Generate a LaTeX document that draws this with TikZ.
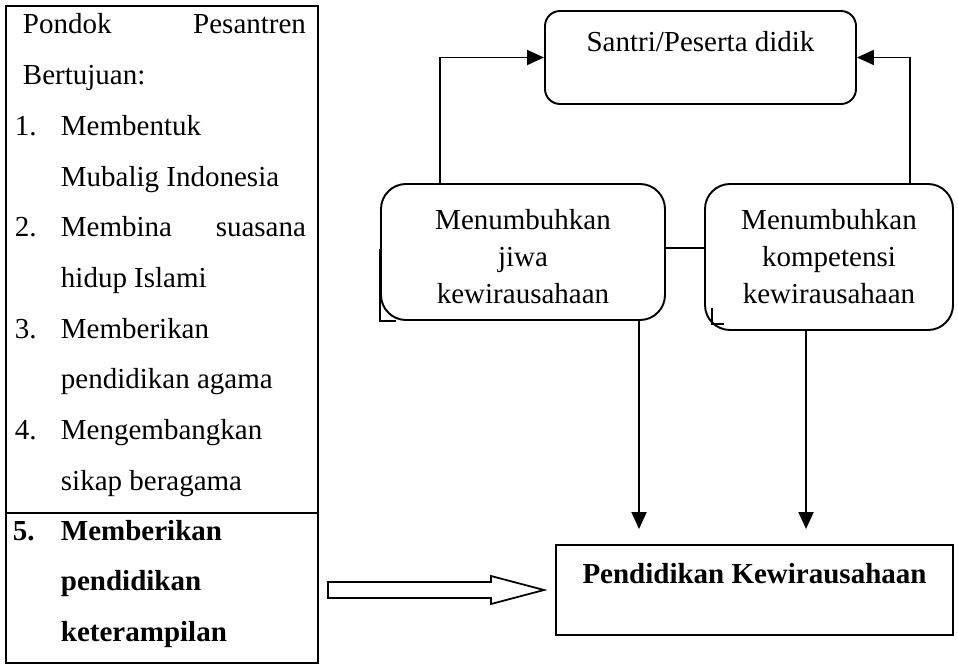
\documentclass[tikz,border=0pt]{standalone}
\usepackage{fontspec}
\setmainfont{Liberation Serif}
\usetikzlibrary{arrows.meta, positioning, calc}

\begin{document}
\begin{tikzpicture}[
        line width=1.1pt,
        font=\fontsize{16.5pt}{28.85pt}\selectfont,
        panel/.style={rectangle, draw, inner sep=0, outer sep=0, minimum width=6.24cm},
        listtext/.style={inner sep=0, anchor=base west},
        roundbox/.style={rectangle, draw, rounded corners=0.5cm, inner sep=0, align=center, font=\fontsize{16.5pt}{21pt}\selectfont},
        plainbox/.style={rectangle, draw, inner sep=0, font=\fontsize{16.5pt}{21pt}\selectfont\bfseries},
        arr/.style={-{Triangle[length=0.34cm, width=0.3cm]}}
    ]
        \useasboundingbox (0,0) rectangle (19.16,-13.34);

        % left column: aims of the pesantren
        \node[panel, anchor=north west, minimum height=10.14cm] (aims) at (0.12,-0.12) {};
        \node[panel, below=0pt of aims, minimum height=3cm] (skill) {};
        \node[listtext] (aimslist) at (0.28,-0.68) {\parbox[t]{5.82cm}{%
            \hspace*{0.16cm}Pondok\hfill Pesantren\\
            \hspace*{0.16cm}Bertujuan:\\
            \makebox[0.92cm][l]{1.}Membentuk\\
            \hspace*{0.92cm}Mubalig Indonesia\\
            \makebox[0.92cm][l]{2.}Membina\hfill suasana\\
            \hspace*{0.92cm}hidup Islami\\
            \makebox[0.92cm][l]{3.}Memberikan\\
            \hspace*{0.92cm}pendidikan agama\\
            \makebox[0.92cm][l]{4.}Mengembangkan\\
            \hspace*{0.92cm}sikap beragama}};
        \node[listtext, font=\fontsize{16.5pt}{29pt}\selectfont\bfseries] (skilllist) at (0.24,-10.8) {\parbox[t]{5.82cm}{%
            \makebox[0.96cm][l]{5.}Memberikan\\
            \hspace*{0.96cm}pendidikan\\
            \hspace*{0.96cm}keterampilan}};

        % right side
        \node[roundbox, rounded corners=0.3cm, minimum width=6.22cm, text height=0.82cm, text depth=1.04cm] (santri) at (14.01,-1.15) {Santri/Peserta didik};
        \node[roundbox, minimum width=5.68cm, text height=2.38cm, text depth=0.34cm] (jiwa) at (10.46,-5.04) {Menumbuhkan\\jiwa\\kewirausahaan};
        \node[roundbox, minimum width=4.96cm, text height=2.38cm, text depth=0.54cm] (kompetensi) at (16.58,-5.14) {Menumbuhkan\\kompetensi\\kewirausahaan};
        \node[plainbox, minimum width=7.94cm, text height=0.76cm, text depth=1.04cm] (edu) at (15.09,-11.8) {Pendidikan Kewirausahaan};

        % corner marks under the rounded boxes
        \draw[line width=1pt] ([yshift=1.44cm]jiwa.south west) |- ([xshift=0.32cm]jiwa.south west);
        \draw[line width=1pt] ($(kompetensi.south west)+(0.16,0.46)$) |- ($(kompetensi.south west)+(0.4,0.14)$);

        % links
        \draw[arr] ([xshift=1.2cm]jiwa.north west) |- (santri.west);
        \draw[arr] ([xshift=4.12cm]kompetensi.north west) |- (santri.east);
        \draw ([yshift=0.08cm]jiwa.east) -- ([yshift=0.08cm]jiwa.east -| kompetensi.west);
        \draw[arr, shorten >=0.3cm] ([xshift=5.18cm]jiwa.south west) -- ([xshift=5.18cm]jiwa.south west |- edu.north);
        \draw[arr, shorten >=0.3cm] ([xshift=2.04cm]kompetensi.south west) -- ([xshift=2.04cm]kompetensi.south west |- edu.north);

        % hollow arrow into the education box
        \coordinate (hs) at ($(skill.east |- edu.west)+(0.2,0)$);
        \coordinate (he) at ($(edu.west)+(-0.22,0)$);
        \draw[line width=1pt] ($(hs)+(0,0.16)$) -- ($(he)+(-1.06,0.16)$) -- ($(he)+(-1.06,0.28)$) -- (he)
            -- ($(he)+(-1.06,-0.28)$) -- ($(he)+(-1.06,-0.16)$) -- ($(hs)+(0,-0.16)$) -- cycle;
    \end{tikzpicture}
\end{document}
